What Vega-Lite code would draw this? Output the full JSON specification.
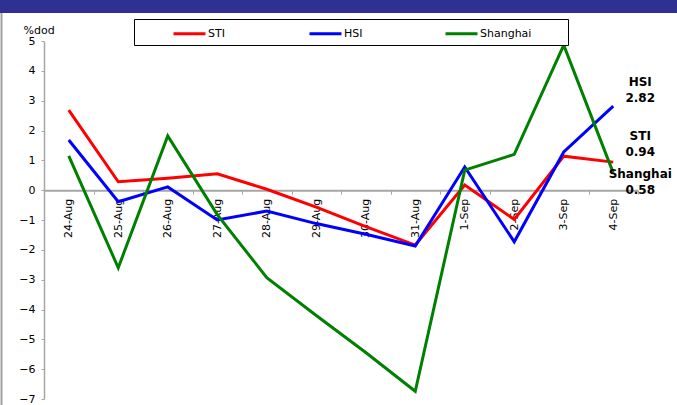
{
  "$schema": "https://vega.github.io/schema/vega-lite/v6.json",
  "background": "white",
  "padding": 0,
  "spacing": -2,
  "align": "none",
  "resolve": {"legend": {"color": "independent"}},
  "config": {
    "view": {"stroke": null},
    "font": "DejaVu Sans",
    "axisY": {
      "values": [-7, -6, -5, -4, -3, -2, -1, 0, 1, 2, 3, 4, 5],
      "grid": false,
      "labelOverlap": false,
      "labelFontSize": 11,
      "labelColor": "#000000",
      "labelPadding": 6,
      "tickSize": 3,
      "tickColor": "#A6A6A6",
      "domainColor": "#A6A6A6",
      "domainWidth": 1.5,
      "minExtent": 44,
      "maxExtent": 44,
      "titleAngle": 0,
      "titleAlign": "left",
      "titleBaseline": "alphabetic",
      "titleX": -21,
      "titleY": -8,
      "titleFontSize": 11,
      "titleFontWeight": "normal",
      "titleColor": "#000000"
    }
  },
  "datasets": {
    "moves": [
      {"date": "24-Aug", "series": "STI", "value": 2.68},
      {"date": "25-Aug", "series": "STI", "value": 0.28},
      {"date": "26-Aug", "series": "STI", "value": 0.4},
      {"date": "27-Aug", "series": "STI", "value": 0.55},
      {"date": "28-Aug", "series": "STI", "value": 0.03},
      {"date": "29-Aug", "series": "STI", "value": -0.57},
      {"date": "30-Aug", "series": "STI", "value": -1.22},
      {"date": "31-Aug", "series": "STI", "value": -1.84},
      {"date": "1-Sep", "series": "STI", "value": 0.17},
      {"date": "2-Sep", "series": "STI", "value": -0.98},
      {"date": "3-Sep", "series": "STI", "value": 1.14},
      {"date": "4-Sep", "series": "STI", "value": 0.94},
      {"date": "24-Aug", "series": "HSI", "value": 1.68},
      {"date": "25-Aug", "series": "HSI", "value": -0.39},
      {"date": "26-Aug", "series": "HSI", "value": 0.11},
      {"date": "27-Aug", "series": "HSI", "value": -1.0},
      {"date": "28-Aug", "series": "HSI", "value": -0.7},
      {"date": "29-Aug", "series": "HSI", "value": -1.12},
      {"date": "30-Aug", "series": "HSI", "value": -1.48},
      {"date": "31-Aug", "series": "HSI", "value": -1.87},
      {"date": "1-Sep", "series": "HSI", "value": 0.78},
      {"date": "2-Sep", "series": "HSI", "value": -1.73},
      {"date": "3-Sep", "series": "HSI", "value": 1.28},
      {"date": "4-Sep", "series": "HSI", "value": 2.82},
      {"date": "24-Aug", "series": "Shanghai", "value": 1.15},
      {"date": "25-Aug", "series": "Shanghai", "value": -2.6},
      {"date": "26-Aug", "series": "Shanghai", "value": 1.82},
      {"date": "27-Aug", "series": "Shanghai", "value": -0.82},
      {"date": "28-Aug", "series": "Shanghai", "value": -2.93},
      {"date": "29-Aug", "series": "Shanghai", "value": -4.2},
      {"date": "30-Aug", "series": "Shanghai", "value": -5.44},
      {"date": "31-Aug", "series": "Shanghai", "value": -6.74},
      {"date": "1-Sep", "series": "Shanghai", "value": 0.67},
      {"date": "2-Sep", "series": "Shanghai", "value": 1.2},
      {"date": "3-Sep", "series": "Shanghai", "value": 4.86},
      {"date": "4-Sep", "series": "Shanghai", "value": 0.58}
    ]
  },
  "vconcat": [
    {
      "width": 633,
      "height": 13,
      "data": {"values": [{}]},
      "mark": {"type": "rect", "color": "#2E3192"},
      "encoding": {
        "x": {
          "datum": 0,
          "type": "quantitative",
          "scale": {"domain": [0, 1], "range": [-44, 633]},
          "axis": null
        },
        "x2": {"datum": 1}
      }
    },
    {
      "width": 594,
      "height": 358,
      "data": {"name": "moves"},
      "resolve": {"scale": {"x": "independent"}},
      "layer": [
        {
          "encoding": {
            "x": {
              "field": "date",
              "type": "ordinal",
              "sort": null,
              "scale": {"type": "band", "paddingInner": 0, "paddingOuter": 0},
              "axis": {
                "title": null,
                "offset": -208.8,
                "labelAngle": 270,
                "labelFontSize": 11,
                "labelColor": "#000000",
                "labelPadding": 4,
                "tickSize": 4,
                "tickBand": "extent",
                "tickColor": "#A6A6A6",
                "domainColor": "#A6A6A6",
                "domainWidth": 2
              }
            },
            "y": {
              "field": "value",
              "type": "quantitative",
              "title": "%dod",
              "scale": {"domain": [-7, 5], "nice": false, "zero": false}
            }
          },
          "layer": [
            {
              "mark": {"type": "line", "strokeWidth": 3},
              "encoding": {
                "color": {
                  "field": "series",
                  "type": "nominal",
                  "scale": {
                    "domain": ["STI", "HSI", "Shanghai"],
                    "range": ["#FF0000", "#0000FF", "#008000"]
                  },
                  "legend": {
                    "orient": "none",
                    "legendX": 90,
                    "legendY": -22,
                    "direction": "horizontal",
                    "columns": 3,
                    "gridAlign": "all",
                    "columnPadding": 15,
                    "title": " ",
                    "titleOrient": "right",
                    "titlePadding": 32,
                    "symbolType": "M-2,0H2",
                    "symbolSize": 256,
                    "symbolStrokeWidth": 3,
                    "symbolOffset": 41,
                    "labelOffset": 9,
                    "labelFontSize": 11,
                    "labelColor": "#000000",
                    "padding": 5,
                    "strokeColor": "#000000",
                    "fillColor": "#FFFFFF"
                  }
                }
              }
            },
            {
              "transform": [
                {"filter": "datum.series === 'HSI' && datum.date === '4-Sep'"},
                {"calculate": "datum.series + '\\n' + format(datum.value, '.2f')", "as": "label"}
              ],
              "mark": {"type": "text", "fontWeight": "bold", "fontSize": 12, "lineBreak": "\n", "lineHeight": 16, "align": "center", "baseline": "middle", "dx": 27, "dy": -24},
              "encoding": {"text": {"field": "label"}}
            },
            {
              "transform": [
                {"filter": "datum.series === 'STI' && datum.date === '4-Sep'"},
                {"calculate": "datum.series + '\\n' + format(datum.value, '.2f')", "as": "label"}
              ],
              "mark": {"type": "text", "fontWeight": "bold", "fontSize": 12, "lineBreak": "\n", "lineHeight": 16, "align": "center", "baseline": "middle", "dx": 27, "dy": -26.5},
              "encoding": {"text": {"field": "label"}}
            },
            {
              "transform": [
                {"filter": "datum.series === 'Shanghai' && datum.date === '4-Sep'"},
                {"calculate": "datum.series + '\\n' + format(datum.value, '.2f')", "as": "label"}
              ],
              "mark": {"type": "text", "fontWeight": "bold", "fontSize": 12, "lineBreak": "\n", "lineHeight": 16, "align": "center", "baseline": "middle", "dx": 27, "dy": 1.5},
              "encoding": {"text": {"field": "label"}}
            }
          ]
        },
        {
          "description": "Grey frame edge down the left side of the panel",
          "data": {"values": [{}]},
          "mark": {"type": "rule", "color": "#A0A0A0", "strokeWidth": 2},
          "encoding": {
            "x": {
              "datum": 0,
              "type": "quantitative",
              "scale": {"domain": [0, 1], "range": [-42.5, 594]},
              "axis": null
            },
            "y": {
              "datum": 5.94,
              "type": "quantitative",
              "title": "%dod",
              "scale": {"domain": [-7, 5], "nice": false, "zero": false}
            },
            "y2": {"datum": -7.25}
          }
        }
      ]
    }
  ]
}
